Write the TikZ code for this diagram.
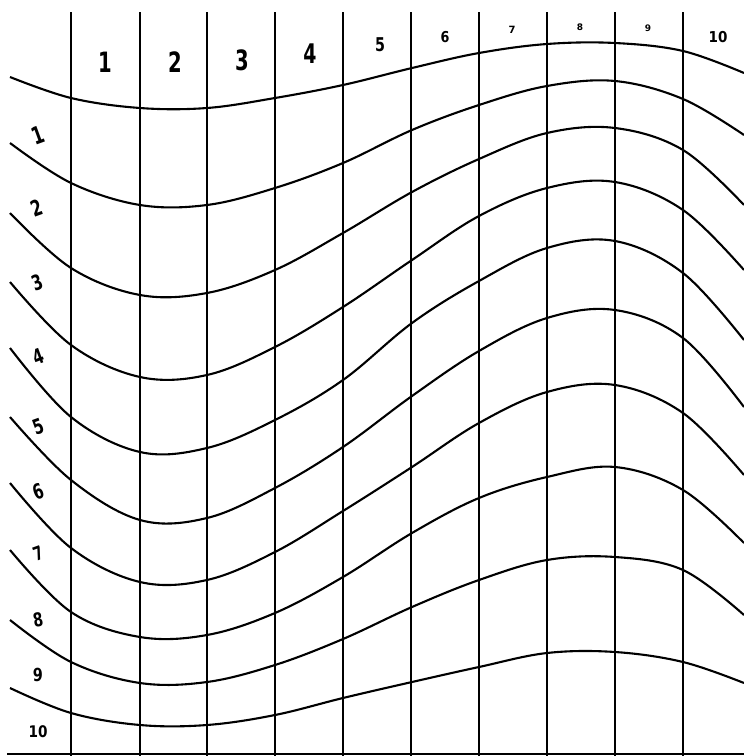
\documentclass[tikz,border=0pt]{standalone}
\usepackage{fontspec}
\setmainfont{DejaVu Sans}
\newcommand\numlab[3]{\fontsize{#1}{#1}\selectfont\scalebox{#2}[1]{#3}}
\begin{document}
\begin{tikzpicture}[x=1pt,y=-1pt,
  vline/.style={line width=2.8pt},
  wave/.style={line width=2.1pt},
  lab/.style={inner sep=0pt, font=\bfseries}]
\useasboundingbox (0,0) rectangle (744,756);
% vertical lines
\foreach \i/\x in {1/71,2/140,3/207,4/275,5/343,6/411,7/479,8/547,9/615,10/683}
  \draw[vline] (\x,12) coordinate (vt\i) -- (\x,756) coordinate (vb\i);
% bottom line
\draw[line width=2pt] (7,754) coordinate (bl) -- (744,754) coordinate (br);
% waves
\draw[wave] plot[smooth, tension=0.6] coordinates {(10,77) (71,98) (140,108) (207,108) (275,98) (343,85) (412,68) (479,53) (547,44) (615,43) (683,51) (744,73)};
\draw[wave] plot[smooth, tension=0.6] coordinates {(10,143) (71,183) (140,205) (207,205) (275,188) (343,163) (412,130) (479,105) (547,86) (615,81) (683,99) (744,135)};
\draw[wave] plot[smooth, tension=0.6] coordinates {(10,213) (71,268) (140,295) (207,293) (275,270) (343,233) (412,192) (479,159) (547,133) (615,128) (683,150) (744,205)};
\draw[wave] plot[smooth, tension=0.6] coordinates {(10,282) (71,345) (140,377) (207,375) (275,347) (343,307) (412,260) (479,216) (547,188) (615,182) (683,210) (744,270)};
\draw[wave] plot[smooth, tension=0.6] coordinates {(10,348) (71,417) (140,452) (207,448) (275,420) (343,380) (412,323) (479,281) (547,248) (615,241) (683,273) (744,340)};
\draw[wave] plot[smooth, tension=0.6] coordinates {(10,417) (71,480) (140,520) (207,518) (275,488) (343,447) (412,396) (479,351) (547,318) (615,310) (683,338) (744,407)};
\draw[wave] plot[smooth, tension=0.6] coordinates {(10,483) (71,548) (140,582) (207,580) (275,552) (343,511) (412,467) (479,423) (547,392) (615,385) (683,413) (744,475)};
\draw[wave] plot[smooth, tension=0.6] coordinates {(10,550) (71,612) (140,637) (207,635) (275,613) (343,577) (412,533) (479,498) (547,477) (615,467) (683,490) (744,543)};
\draw[wave] plot[smooth, tension=0.6] coordinates {(10,620) (71,662) (140,683) (207,682) (275,665) (343,639) (412,607) (479,580) (547,560) (615,557) (683,570) (744,615)};
\draw[wave] plot[smooth, tension=0.6] coordinates {(10,688) (71,713) (140,725) (207,725) (275,715) (343,698) (412,682) (479,667) (547,653) (615,652) (683,662) (744,683)};
% top labels
\node[lab] (c1) at (105,62) {\numlab{28}{0.7}{1}};
\node[lab] (c2) at (175,62) {\numlab{28}{0.7}{2}};
\node[lab] (c3) at (242,60) {\numlab{28}{0.7}{3}};
\node[lab] (c4) at (310,54) {\numlab{27}{0.7}{4}};
\node[lab] (c5) at (380,45) {\numlab{19}{0.75}{5}};
\node[lab] (c6) at (445,37) {\numlab{15}{0.85}{6}};
\node[lab] (c7) at (512,30) {\numlab{10}{1}{7}};
\node[lab] (c8) at (580,27) {\numlab{9}{1}{8}};
\node[lab] (c9) at (648,28) {\numlab{9}{1}{9}};
\node[lab] (c10) at (718,37) {\numlab{15}{0.9}{10}};
% left labels
\node[lab, rotate=20] (r1) at (38,135) {\numlab{24}{0.7}{1}};
\node[lab, rotate=20] (r2) at (37,208) {\numlab{22}{0.7}{2}};
\node[lab, rotate=20] (r3) at (37,283) {\numlab{21}{0.7}{3}};
\node[lab, rotate=20] (r4) at (38,357) {\numlab{21}{0.7}{4}};
\node[lab, rotate=20] (r5) at (38,427) {\numlab{21}{0.7}{5}};
\node[lab, rotate=20] (r6) at (38,492) {\numlab{21}{0.7}{6}};
\node[lab, rotate=20] (r7) at (38,553) {\numlab{19}{0.7}{7}};
\node[lab, rotate=10] (r8) at (38,620) {\numlab{19}{0.75}{8}};
\node[lab] (r9) at (38,675) {\numlab{18}{0.8}{9}};
\node[lab] (r10) at (38,732) {\numlab{16}{0.85}{10}};
\end{tikzpicture}
\end{document}
